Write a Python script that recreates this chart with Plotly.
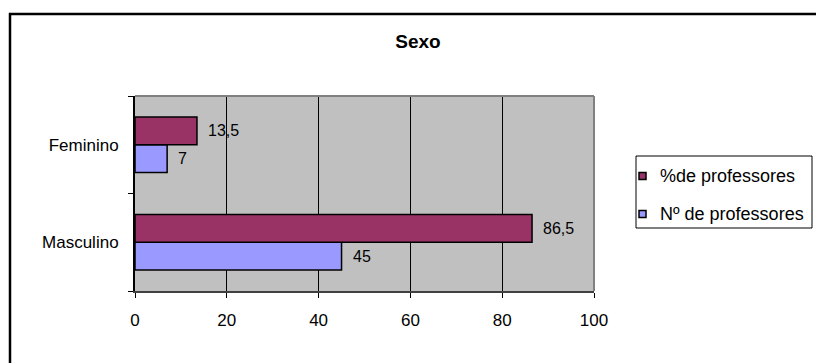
import plotly.graph_objects as go

categories = ["Masculino", "Feminino"]
pct_values = [86.5, 13.5]
n_values = [45, 7]
pct_labels = ["86,5", "13,5"]
n_labels = ["45", "7"]
x_ticks = [0, 20, 40, 60, 80, 100]
series_names = ["%de professores", "Nº de professores"]
series_colors = ["#993366", "#9999FF"]

FONT = "Liberation Sans, Arial, sans-serif"

# plot area in pixels
L, R, T, B = 135, 594, 96, 291
W, H = 816, 363
PW, PH = R - L, B - T


def px(x):
    return (x - L) / PW


def py(y):
    return (B - y) / PH


fig = go.Figure()
fig.add_trace(go.Bar(
    y=categories, x=n_values, orientation="h", name=series_names[1],
    marker=dict(color=series_colors[1], line=dict(color="black", width=1.5)),
    showlegend=False,
))
fig.add_trace(go.Bar(
    y=categories, x=pct_values, orientation="h", name=series_names[0],
    marker=dict(color=series_colors[0], line=dict(color="black", width=1.5)),
    showlegend=False,
))

annotations = []
bar_shift = 14
for cat, v, lab in zip(categories, pct_values, pct_labels):
    annotations.append(dict(x=v, y=cat, xref="x", yref="y", text=lab,
                            showarrow=False, xanchor="left", yanchor="middle",
                            xshift=9, yshift=bar_shift,
                            font=dict(family=FONT, size=16, color="black")))
for cat, v, lab in zip(categories, n_values, n_labels):
    annotations.append(dict(x=v, y=cat, xref="x", yref="y", text=lab,
                            showarrow=False, xanchor="left", yanchor="middle",
                            xshift=9, yshift=-bar_shift,
                            font=dict(family=FONT, size=16, color="black")))

# manual legend
legend_rows_y = [176, 214]
shapes = [
    dict(type="line", xref="paper", yref="paper", x0=0, x1=1, y0=1, y1=1,
         line=dict(color="#808080", width=2)),
    dict(type="line", xref="paper", yref="paper", x0=1, x1=1, y0=0, y1=1,
         line=dict(color="#808080", width=2)),
    dict(type="rect", xref="paper", yref="paper",
         x0=px(10), x1=px(840), y0=py(380), y1=py(14),
         line=dict(color="black", width=2.5), fillcolor="rgba(0,0,0,0)"),
    dict(type="rect", xref="paper", yref="paper",
         x0=px(636), x1=px(812), y0=py(228), y1=py(156),
         line=dict(color="black", width=1), fillcolor="white"),
]
for name, col, ry in zip(series_names, series_colors, legend_rows_y):
    shapes.append(dict(type="rect", xref="paper", yref="paper",
                       x0=px(639), x1=px(646), y0=py(ry + 3.5), y1=py(ry - 3.5),
                       line=dict(color="black", width=1.5), fillcolor=col))
    annotations.append(dict(x=px(658), y=py(ry), xref="paper", yref="paper",
                            text=name, showarrow=False, xanchor="left",
                            yanchor="middle",
                            font=dict(family=FONT, size=18, color="black")))

fig.update_layout(
    width=W, height=H,
    margin=dict(l=L, r=W - R, t=T, b=H - B),
    paper_bgcolor="white",
    plot_bgcolor="#C0C0C0",
    barmode="group",
    bargap=0.43,
    bargroupgap=0,
    font=dict(family=FONT, size=16, color="black"),
    title=dict(text="<b>Sexo</b>", x=px(418), xref="paper", xanchor="center",
               y=(H - 41) / H, yanchor="middle",
               font=dict(family=FONT, size=19, color="black")),
    showlegend=False,
    xaxis=dict(
        range=[0, 100], tickvals=x_ticks, ticktext=[str(v) for v in x_ticks],
        showgrid=True, gridcolor="black", gridwidth=1,
        showline=True, linecolor="#404040", linewidth=2,
        ticks="outside", ticklen=5, tickcolor="black", tickwidth=1,
        zeroline=False, ticklabelstandoff=8,
        tickfont=dict(family=FONT, size=17, color="black"),
    ),
    yaxis=dict(
        showgrid=False, showline=True, linecolor="black", linewidth=2,
        ticks="outside", ticklen=5, tickcolor="black", tickwidth=1,
        tickson="boundaries", zeroline=False, ticklabelstandoff=11,
        tickfont=dict(family=FONT, size=17, color="black"),
    ),
    shapes=shapes,
    annotations=annotations,
)

fig.write_html("out.html")
